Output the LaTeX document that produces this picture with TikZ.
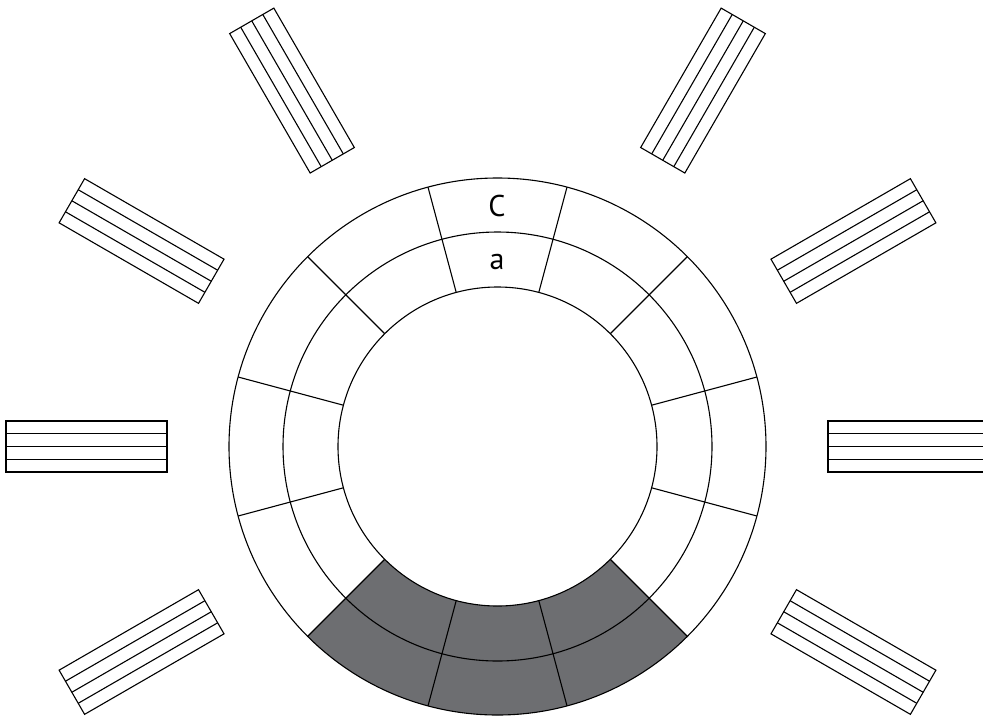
\documentclass[tikz,border=0pt]{standalone}
\usepackage{fontspec}
\setmainfont{PT Sans}
\definecolor{cellgray}{HTML}{6D6E71}
\begin{document}
\begin{tikzpicture}[x=1pt,y=1pt,
  ln/.style={line width=1.1pt, black},
  lbl/.style={inner sep=0pt, font=\fontsize{30}{30}\selectfont}]
\useasboundingbox (0,0) rectangle (983,-716);
\clip (0,0) rectangle (983,-716);
\coordinate (c) at (497.5,-446.5);
\begin{scope}[shift={(c)}]
  % shaded cells
  \fill[cellgray] (225:268.5) arc[start angle=225,end angle=315,radius=268.5]
     -- (315:159.5) arc[start angle=315,end angle=225,radius=159.5] -- cycle;
  % rings
  \draw[ln] (0,0) circle[radius=268.5];
  \draw[ln] (0,0) circle[radius=214.5];
  \draw[ln] (0,0) circle[radius=159.5];
  % dividers
  \foreach \a in {15,45,...,345}
    \draw[ln] (\a:159.5) -- (\a:268.5);
  % striped bars
  \foreach \a in {0,30,60,120,150,180,210,330} {
    \begin{scope}[rotate=\a]
      \draw[ln] (330.5,-25.5) rectangle (491.5,25.5);
      \foreach \y in {-12.75,0,12.75}
        \draw[ln] (330.5,\y) -- (491.5,\y);
    \end{scope}
  }
\end{scope}
\node[lbl] (C) at (497,-206) {C};
\node[lbl] (a) at (497,-262) {a};
\end{tikzpicture}
\end{document}
